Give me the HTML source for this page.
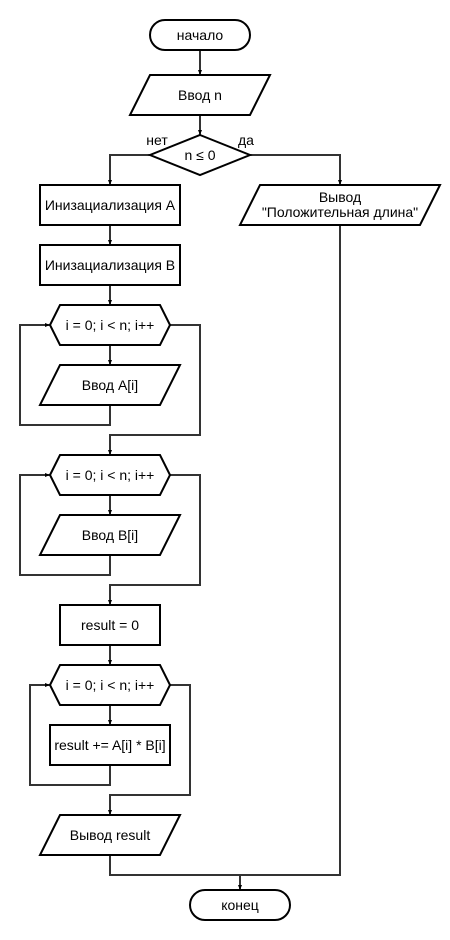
<!DOCTYPE html>
<html><head><meta charset="utf-8"><style>html,body{margin:0;padding:0;background:#fff}svg{display:block}</style></head>
<body>
<svg width="450" height="940" viewBox="0 0 450 940" xmlns="http://www.w3.org/2000/svg" font-family="Liberation Sans, Arial, sans-serif" font-size="14">
<defs>
<marker id="a" markerWidth="6" markerHeight="6" refX="5" refY="3" orient="auto" markerUnits="userSpaceOnUse">
<path d="M0,1 L5,3 L0,5 Z" fill="#000"/>
</marker>
</defs>
<g fill="none" stroke="#333" stroke-width="2" stroke-linejoin="miter">
<path d="M200,50 V75" marker-end="url(#a)"/>
<path d="M200,115 V135" marker-end="url(#a)"/>
<path d="M150,155 H110 V185" marker-end="url(#a)"/>
<path d="M250,155 H340 V185" marker-end="url(#a)"/>
<path d="M110,225 V245" marker-end="url(#a)"/>
<path d="M110,285 V305" marker-end="url(#a)"/>
<path d="M110,345 V365" marker-end="url(#a)"/>
<path d="M110,405 V425 H20 V325 H50" marker-end="url(#a)"/>
<path d="M170,325 H200 V435 H110 V455" marker-end="url(#a)"/>
<path d="M110,495 V515" marker-end="url(#a)"/>
<path d="M110,555 V575 H20 V475 H50" marker-end="url(#a)"/>
<path d="M170,475 H200 V585 H110 V605" marker-end="url(#a)"/>
<path d="M110,645 V665" marker-end="url(#a)"/>
<path d="M110,705 V725" marker-end="url(#a)"/>
<path d="M110,765 V785 H30 V685 H50" marker-end="url(#a)"/>
<path d="M170,685 H190 V795 H110 V815" marker-end="url(#a)"/>
<path d="M110,855 V875 H340 V225"/>
<path d="M240,875 V890" marker-end="url(#a)"/>
</g>
<g fill="#fff" stroke="#000" stroke-width="2">
<rect x="150" y="20" width="100" height="30" rx="15"/>
<polygon points="150,75 270,75 250,115 130,115"/>
<polygon points="200,135 250,155 200,175 150,155"/>
<rect x="40" y="185" width="140" height="40"/>
<polygon points="260,185 440,185 420,225 240,225"/>
<rect x="40" y="245" width="140" height="40"/>
<polygon points="50,325 60,305 160,305 170,325 160,345 60,345"/>
<polygon points="60,365 180,365 160,405 40,405"/>
<polygon points="50,475 60,455 160,455 170,475 160,495 60,495"/>
<polygon points="60,515 180,515 160,555 40,555"/>
<rect x="60" y="605" width="100" height="40"/>
<polygon points="50,685 60,665 160,665 170,685 160,705 60,705"/>
<rect x="50" y="725" width="120" height="40"/>
<polygon points="60,815 180,815 160,855 40,855"/>
<rect x="190" y="890" width="100" height="30" rx="15"/>
</g>
<g fill="#000" text-anchor="middle">
<text x="200" y="40">начало</text>
<text x="200" y="100">Ввод n</text>
<text x="200" y="160">n ≤ 0</text>
<text x="157" y="145">нет</text>
<text x="246" y="145">да</text>
<text x="110" y="210">Инизациализация A</text>
<text x="340" y="202">Вывод</text>
<text x="340" y="217">"Положительная длина"</text>
<text x="110" y="270">Инизациализация B</text>
<text x="110" y="330">i = 0; i &lt; n; i++</text>
<text x="110" y="390">Ввод A[i]</text>
<text x="110" y="480">i = 0; i &lt; n; i++</text>
<text x="110" y="540">Ввод B[i]</text>
<text x="110" y="630">result = 0</text>
<text x="110" y="690">i = 0; i &lt; n; i++</text>
<text x="110" y="750">result += A[i] * B[i]</text>
<text x="110" y="840">Вывод result</text>
<text x="240" y="910">конец</text>
</g>
</svg>
</body></html>
